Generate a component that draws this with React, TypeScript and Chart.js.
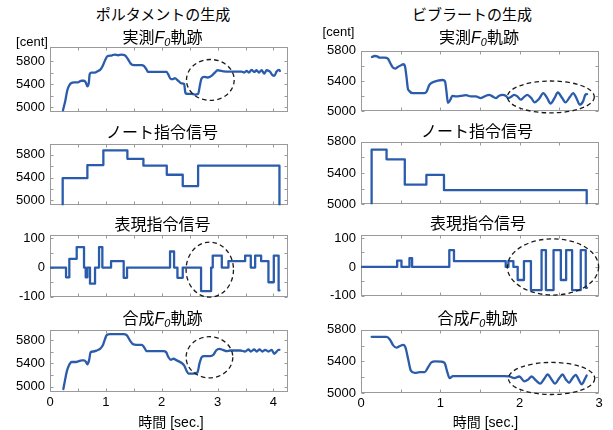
import React, { useEffect, useRef } from 'react';
import { Chart, registerables } from 'chart.js';

Chart.register(...registerables);

const FONT = "'Liberation Sans', 'Noto Sans CJK JP', Arial, sans-serif";
const LINE_COLOR = '#2b5cab';
const FRAME_COLOR = '#9a9a9a';

// ---------------- data (time in sec., pitch in cent) ----------------
// Portamento: measured F0
const portaMeasT = [0.233, 0.275, 0.311, 0.341, 0.382, 0.430, 0.502, 0.532, 0.562, 0.609, 0.639, 0.669, 0.693, 0.711, 0.741, 0.800, 0.860, 0.908, 0.950, 0.992, 1.027, 1.099, 1.159, 1.219, 1.278, 1.338, 1.380, 1.416, 1.458, 1.505, 1.637, 1.685, 1.726, 1.756, 1.876, 1.995, 2.085, 2.115, 2.163, 2.204, 2.234, 2.294, 2.354, 2.401, 2.425, 2.473, 2.533, 2.593, 2.652, 2.682, 2.712, 2.760, 2.820, 2.891, 2.951, 2.999, 3.070, 3.190, 3.309, 3.429, 3.477, 3.519, 3.560, 3.608, 3.656, 3.698, 3.740, 3.787, 3.835, 3.877, 3.937, 3.978, 4.014, 4.056, 4.098, 4.116];
const portaMeasV = [4950, 5120, 5303, 5377, 5423, 5435, 5435, 5452, 5463, 5463, 5435, 5366, 5417, 5577, 5606, 5606, 5634, 5663, 5737, 5834, 5891, 5903, 5920, 5908, 5920, 5908, 5863, 5806, 5749, 5737, 5737, 5720, 5663, 5617, 5617, 5617, 5617, 5577, 5492, 5492, 5509, 5463, 5417, 5406, 5246, 5235, 5235, 5223, 5235, 5377, 5503, 5532, 5520, 5549, 5606, 5646, 5634, 5623, 5623, 5623, 5606, 5634, 5606, 5652, 5617, 5646, 5606, 5646, 5589, 5646, 5623, 5566, 5549, 5623, 5652, 5634];
// Portamento: note command signal (times include the end time)
const portaNoteT = [0.227, 0.669, 0.955, 1.385, 1.672, 2.090, 2.376, 2.651, 4.107];
const portaNoteV = [5390, 5620, 5880, 5730, 5610, 5450, 5250, 5610];
// Portamento: expression command signal
const portaExprT = [0, 0.287, 0.346, 0.478, 0.609, 0.639, 0.669, 0.716, 0.806, 0.878, 0.937, 1.093, 1.319, 1.379, 2.149, 2.221, 2.281, 2.376, 2.704, 2.884, 2.913, 3.075, 3.194, 3.493, 3.594, 3.672, 3.779, 3.910, 4.006, 4.092, 4.107];
const portaExprV = [0, -33, 30, 70, 0, -33, 0, -55, 0, 70, 0, 22, -35, 0, 55, 0, -35, 0, -80, 0, 41, 0, 22, 41, 0, 41, 22, -50, 41, -78];
// Portamento: synthesized F0
const portaSynT = [0.239, 0.269, 0.299, 0.340, 0.388, 0.448, 0.507, 0.567, 0.609, 0.645, 0.669, 0.699, 0.728, 0.776, 0.836, 0.896, 0.943, 0.985, 1.015, 1.075, 1.194, 1.313, 1.373, 1.433, 1.481, 1.552, 1.642, 1.684, 1.731, 1.851, 2.030, 2.078, 2.119, 2.161, 2.209, 2.269, 2.358, 2.400, 2.448, 2.478, 2.555, 2.639, 2.675, 2.716, 2.758, 2.866, 2.925, 2.973, 3.033, 3.093, 3.164, 3.224, 3.403, 3.493, 3.552, 3.594, 3.654, 3.701, 3.749, 3.803, 3.851, 3.910, 3.970, 4.012, 4.048, 4.090, 4.107];
const portaSynV = [4960, 5113, 5254, 5366, 5423, 5423, 5434, 5451, 5451, 5423, 5383, 5451, 5592, 5603, 5620, 5648, 5704, 5817, 5884, 5901, 5901, 5901, 5884, 5789, 5732, 5716, 5716, 5676, 5609, 5609, 5609, 5592, 5507, 5462, 5479, 5451, 5406, 5366, 5265, 5226, 5226, 5243, 5395, 5507, 5524, 5524, 5547, 5620, 5648, 5631, 5609, 5620, 5620, 5603, 5637, 5603, 5637, 5603, 5637, 5603, 5631, 5603, 5631, 5564, 5592, 5631, 5631];

// Vibrato: measured F0
const vibMeasT = [0.138, 0.172, 0.205, 0.234, 0.297, 0.339, 0.368, 0.402, 0.431, 0.464, 0.506, 0.536, 0.556, 0.573, 0.590, 0.603, 0.653, 0.715, 0.799, 0.828, 0.862, 0.904, 0.967, 1.029, 1.059, 1.075, 1.096, 1.126, 1.151, 1.197, 1.259, 1.322, 1.385, 1.448, 1.510, 1.573, 1.615, 1.657, 1.699, 1.741, 1.782, 1.824, 1.854, 1.887, 1.929, 1.971, 2.013, 2.054, 2.096, 2.146, 2.188, 2.243, 2.297, 2.347, 2.389, 2.439, 2.481, 2.536, 2.577, 2.632, 2.674, 2.715, 2.757, 2.799, 2.828, 2.849];
const vibMeasV = [5718, 5731, 5726, 5709, 5709, 5696, 5639, 5578, 5565, 5587, 5609, 5622, 5587, 5457, 5304, 5274, 5239, 5239, 5239, 5261, 5348, 5383, 5404, 5413, 5396, 5283, 5109, 5152, 5204, 5196, 5204, 5213, 5196, 5196, 5174, 5204, 5217, 5196, 5174, 5204, 5217, 5204, 5174, 5187, 5217, 5196, 5152, 5187, 5217, 5174, 5117, 5161, 5239, 5174, 5100, 5174, 5248, 5174, 5117, 5187, 5239, 5174, 5087, 5130, 5217, 5226];
// Vibrato: note command signal (times include the end time)
const vibNoteT = [0.134, 0.322, 0.552, 0.824, 1.046, 2.845];
const vibNoteV = [5700, 5575, 5250, 5375, 5180];
// Vibrato: expression command signal
const vibExprT = [0, 0.456, 0.510, 0.611, 0.644, 1.113, 1.172, 1.824, 1.858, 1.921, 1.975, 2.054, 2.142, 2.276, 2.331, 2.427, 2.519, 2.586, 2.661, 2.770, 2.833, 2.849];
const vibExprV = [0, 22, 0, 30, 0, 58, 20, 0, 20, 0, -45, 20, -80, 58, -80, 58, -45, 58, -80, 58, -72];
// Vibrato: synthesized F0
const vibSynT = [0.134, 0.322, 0.364, 0.406, 0.448, 0.490, 0.531, 0.561, 0.594, 0.628, 0.678, 0.741, 0.803, 0.845, 0.887, 0.937, 1.013, 1.054, 1.088, 1.117, 1.159, 1.222, 1.389, 1.598, 1.808, 1.870, 1.933, 1.996, 2.059, 2.109, 2.151, 2.205, 2.259, 2.310, 2.351, 2.402, 2.444, 2.498, 2.540, 2.582, 2.623, 2.665, 2.707, 2.749, 2.782, 2.820, 2.845];
const vibSynV = [5711, 5711, 5678, 5603, 5574, 5595, 5608, 5574, 5429, 5284, 5255, 5263, 5263, 5325, 5388, 5400, 5396, 5379, 5263, 5188, 5213, 5213, 5213, 5213, 5213, 5209, 5188, 5209, 5147, 5172, 5209, 5159, 5118, 5180, 5234, 5172, 5118, 5188, 5234, 5172, 5130, 5188, 5230, 5159, 5110, 5172, 5222];

// ticks
const centMinor = [5000, 5200, 5400, 5600, 5800];
const centLabels = [5000, 5400, 5800];
const exprMinor = [-100, -50, 0, 50, 100];
const exprLabels = [-100, 0, 100];
const portaTimeMinor = [0.5, 1, 1.5, 2, 2.5, 3, 3.5, 4];
const portaTimeLabels = [0, 1, 2, 3, 4];
const vibTimeMinor = [0.5, 1, 1.5, 2, 2.5];
const vibTimeLabels = [0, 1, 2, 3];

// ---------------- helpers ----------------
type Pt = { x: number; y: number };
type Ell = { cx: number; cy: number; rx: number; ry: number };

const zip = (t: number[], v: number[]): Pt[] => {
  const n = Math.min(t.length, v.length);
  const out: Pt[] = [];
  for (let i = 0; i < n; i++) out.push({ x: t[i], y: v[i] });
  return out;
};

// times has one more element than levels (last = end time)
const steps = (t: number[], v: number[], floor?: number): Pt[] => {
  const pts: Pt[] = [];
  const end = t[v.length];
  if (floor !== undefined) pts.push({ x: t[0], y: floor });
  v.forEach((y, i) => pts.push({ x: t[i], y }));
  pts.push({ x: end, y: v[v.length - 1] });
  if (floor !== undefined) pts.push({ x: end, y: floor });
  return pts;
};

interface Spec {
  key: string;
  L: number; T: number; R: number; B: number;
  xMax: number; xMinor: number[]; xLabels: number[] | null;
  yMin: number; yMax: number; yMinor: number[]; yLabels: number[];
  points: Pt[]; stepped: boolean;
  ellipse: Ell | null;
}

const LW = 50; // y label area
const PAD = 12;
const XLAB = 28;

const specs: Spec[] = [
  { key: 'pm', L: 50, T: 46, R: 288, B: 113, xMax: 4.26, xMinor: portaTimeMinor, xLabels: null,
    yMin: 4915, yMax: 6055, yMinor: centMinor, yLabels: centLabels,
    points: zip(portaMeasT, portaMeasV), stepped: false, ellipse: { cx: 2.87, cy: 5477, rx: 0.427, ry: 357 } },
  { key: 'pn', L: 50, T: 143, R: 288, B: 206, xMax: 4.26, xMinor: portaTimeMinor, xLabels: null,
    yMin: 4914, yMax: 5994, yMinor: centMinor, yLabels: centLabels,
    points: steps(portaNoteT, portaNoteV, 4914), stepped: true, ellipse: null },
  { key: 'pe', L: 50, T: 234, R: 288, B: 298, xMax: 4.26, xMinor: portaTimeMinor, xLabels: null,
    yMin: -101, yMax: 112, yMinor: exprMinor, yLabels: exprLabels,
    points: steps(portaExprT, portaExprV), stepped: true, ellipse: { cx: 2.86, cy: -7, rx: 0.424, ry: 94 } },
  { key: 'ps', L: 50, T: 329, R: 288, B: 392, xMax: 4.26, xMinor: portaTimeMinor, xLabels: portaTimeLabels,
    yMin: 4910, yMax: 5974, yMinor: centMinor, yLabels: centLabels,
    points: zip(portaSynT, portaSynV), stepped: false, ellipse: { cx: 2.854, cy: 5504, rx: 0.418, ry: 352 } },
  { key: 'vm', L: 361, T: 50, R: 599, B: 112, xMax: 3, xMinor: vibTimeMinor, xLabels: null,
    yMin: 5000, yMax: 5800, yMinor: centMinor, yLabels: centLabels,
    points: zip(vibMeasT, vibMeasV), stepped: false, ellipse: { cx: 2.393, cy: 5189, rx: 0.548, ry: 211 } },
  { key: 'vn', L: 361, T: 141, R: 599, B: 205, xMax: 3, xMinor: vibTimeMinor, xLabels: null,
    yMin: 5000, yMax: 5800, yMinor: centMinor, yLabels: centLabels,
    points: steps(vibNoteT, vibNoteV, 5000), stepped: true, ellipse: null },
  { key: 've', L: 361, T: 234, R: 599, B: 297, xMax: 3, xMinor: vibTimeMinor, xLabels: null,
    yMin: -101, yMax: 111, yMinor: exprMinor, yLabels: exprLabels,
    points: steps(vibExprT, vibExprV), stepped: true, ellipse: { cx: 2.42, cy: 0, rx: 0.575, ry: 97 } },
  { key: 'vs', L: 361, T: 329, R: 599, B: 393, xMax: 3, xMinor: vibTimeMinor, xLabels: vibTimeLabels,
    yMin: 5000, yMax: 5800, yMinor: centMinor, yLabels: centLabels,
    points: zip(vibSynT, vibSynV), stepped: false, ellipse: { cx: 2.402, cy: 5184, rx: 0.544, ry: 203 } },
];

function Panel({ s }: { s: Spec }) {
  const ref = useRef<HTMLCanvasElement>(null);
  const w = s.R - s.L + LW + PAD;
  const h = s.B - s.T + PAD + (s.xLabels ? XLAB : PAD);

  useEffect(() => {
    const frame = {
      id: 'frame',
      beforeDatasetsDraw(chart: any) {
        const { ctx, chartArea: a, scales } = chart;
        const xs = scales.x, ys = scales.y;
        const l = Math.round(a.left) + 0.5, r = Math.round(a.right) - 0.5;
        const t = Math.round(a.top) + 0.5, b = Math.round(a.bottom) - 0.5;
        ctx.save();
        ctx.strokeStyle = FRAME_COLOR;
        ctx.lineWidth = 1;
        ctx.strokeRect(l, t, r - l, b - t);
        ctx.beginPath();
        const tl = 3;
        s.xMinor.forEach((v) => {
          const px = Math.round(xs.getPixelForValue(v)) + 0.5;
          ctx.moveTo(px, b); ctx.lineTo(px, b - tl);
          ctx.moveTo(px, t); ctx.lineTo(px, t + tl);
        });
        s.yMinor.forEach((v) => {
          const py = Math.round(ys.getPixelForValue(v)) + 0.5;
          ctx.moveTo(l, py); ctx.lineTo(l + tl, py);
          ctx.moveTo(r, py); ctx.lineTo(r - tl, py);
        });
        ctx.stroke();
        ctx.restore();
      },
      afterDatasetsDraw(chart: any) {
        if (!s.ellipse) return;
        const { ctx, scales } = chart;
        const xs = scales.x, ys = scales.y;
        const e = s.ellipse;
        const cx = xs.getPixelForValue(e.cx);
        const cy = ys.getPixelForValue(e.cy);
        const rx = Math.abs(xs.getPixelForValue(e.cx + e.rx) - cx);
        const ry = Math.abs(ys.getPixelForValue(e.cy + e.ry) - cy);
        ctx.save();
        ctx.strokeStyle = '#1a1a1a';
        ctx.lineWidth = 1.3;
        ctx.setLineDash([4.5, 3.2]);
        ctx.beginPath();
        ctx.ellipse(cx, cy, rx, ry, 0, 0, Math.PI * 2);
        ctx.stroke();
        ctx.restore();
      },
    };

    const chart = new Chart(ref.current as HTMLCanvasElement, {
      type: 'line',
      data: {
        datasets: [
          {
            data: s.points as any,
            borderColor: LINE_COLOR,
            borderWidth: 2.3,
            pointRadius: 0,
            fill: false,
            stepped: s.stepped ? 'before' : false,
            cubicInterpolationMode: s.stepped ? 'default' : 'monotone',
            tension: 0,
            borderJoinStyle: 'round',
            borderCapStyle: 'round',
          } as any,
        ],
      },
      options: {
        responsive: false,
        animation: false,
        devicePixelRatio: 1,
        events: [],
        layout: { padding: { left: 0, top: PAD, right: PAD, bottom: s.xLabels ? 0 : PAD } },
        plugins: { legend: { display: false }, tooltip: { enabled: false }, title: { display: false } },
        scales: {
          x: {
            type: 'linear',
            min: 0,
            max: s.xMax,
            display: !!s.xLabels,
            grid: { display: false, drawTicks: false },
            border: { display: false },
            ticks: {
              font: { family: FONT, size: 13 },
              color: '#000',
              padding: 3,
              maxRotation: 0,
              autoSkip: false,
              callback: (v: any) => String(v),
            },
            afterBuildTicks: (sc: any) => { sc.ticks = (s.xLabels || []).map((v) => ({ value: v })); },
            afterFit: (sc: any) => { sc.height = s.xLabels ? XLAB : 0; },
          },
          y: {
            type: 'linear',
            min: s.yMin,
            max: s.yMax,
            grid: { display: false, drawTicks: false },
            border: { display: false },
            ticks: {
              font: { family: FONT, size: 13 },
              color: '#000',
              padding: 5,
              autoSkip: false,
              callback: (v: any) => String(v),
            },
            afterBuildTicks: (sc: any) => { sc.ticks = s.yLabels.map((v) => ({ value: v })); },
            afterFit: (sc: any) => { sc.width = LW; },
          },
        },
      } as any,
      plugins: [frame],
    });
    return () => chart.destroy();
  }, [s]);

  return (
    <canvas
      ref={ref}
      width={w}
      height={h}
      style={{ position: 'absolute', left: s.L - LW, top: s.T - PAD, width: w, height: h }}
    />
  );
}

const F0 = () => (
  <>
    <span style={{ fontStyle: 'italic' }}>F</span>
    <span style={{ fontStyle: 'italic', fontSize: '0.68em', position: 'relative', top: '0.3em' }}>0</span>
  </>
);

function Label({ cx, cy, size, children }: { cx: number; cy: number; size: number; children: React.ReactNode }) {
  return (
    <div
      style={{
        position: 'absolute',
        left: cx - 150,
        width: 300,
        top: cy - 11,
        height: 22,
        lineHeight: '22px',
        textAlign: 'center',
        fontSize: size,
        fontFamily: FONT,
        color: '#000',
        whiteSpace: 'nowrap',
      }}
    >
      {children}
    </div>
  );
}

export default function App() {
  return (
    <div style={{ position: 'absolute', left: 0, top: 0, width: 613, height: 430, background: '#fff', overflow: 'hidden' }}>
      {specs.map((s) => (
        <Panel key={s.key} s={s} />
      ))}
      <Label cx={163} cy={15} size={15}>ポルタメントの生成</Label>
      <Label cx={472} cy={15} size={15}>ビブラートの生成</Label>
      <Label cx={162.5} cy={38} size={16}>実測<F0 />軌跡</Label>
      <Label cx={479} cy={38} size={16}>実測<F0 />軌跡</Label>
      <Label cx={162} cy={133} size={16}>ノート指令信号</Label>
      <Label cx={477} cy={132} size={16}>ノート指令信号</Label>
      <Label cx={162.5} cy={225} size={16}>表現指令信号</Label>
      <Label cx={478} cy={224} size={16}>表現指令信号</Label>
      <Label cx={162.5} cy={319} size={16}>合成<F0 />軌跡</Label>
      <Label cx={477.5} cy={319} size={16}>合成<F0 />軌跡</Label>
      <Label cx={32} cy={42} size={13}>[cent]</Label>
      <Label cx={338.5} cy={32} size={13}>[cent]</Label>
      <Label cx={171} cy={422} size={14}>時間 [sec.]</Label>
      <Label cx={485.5} cy={422} size={14}>時間 [sec.]</Label>
    </div>
  );
}
